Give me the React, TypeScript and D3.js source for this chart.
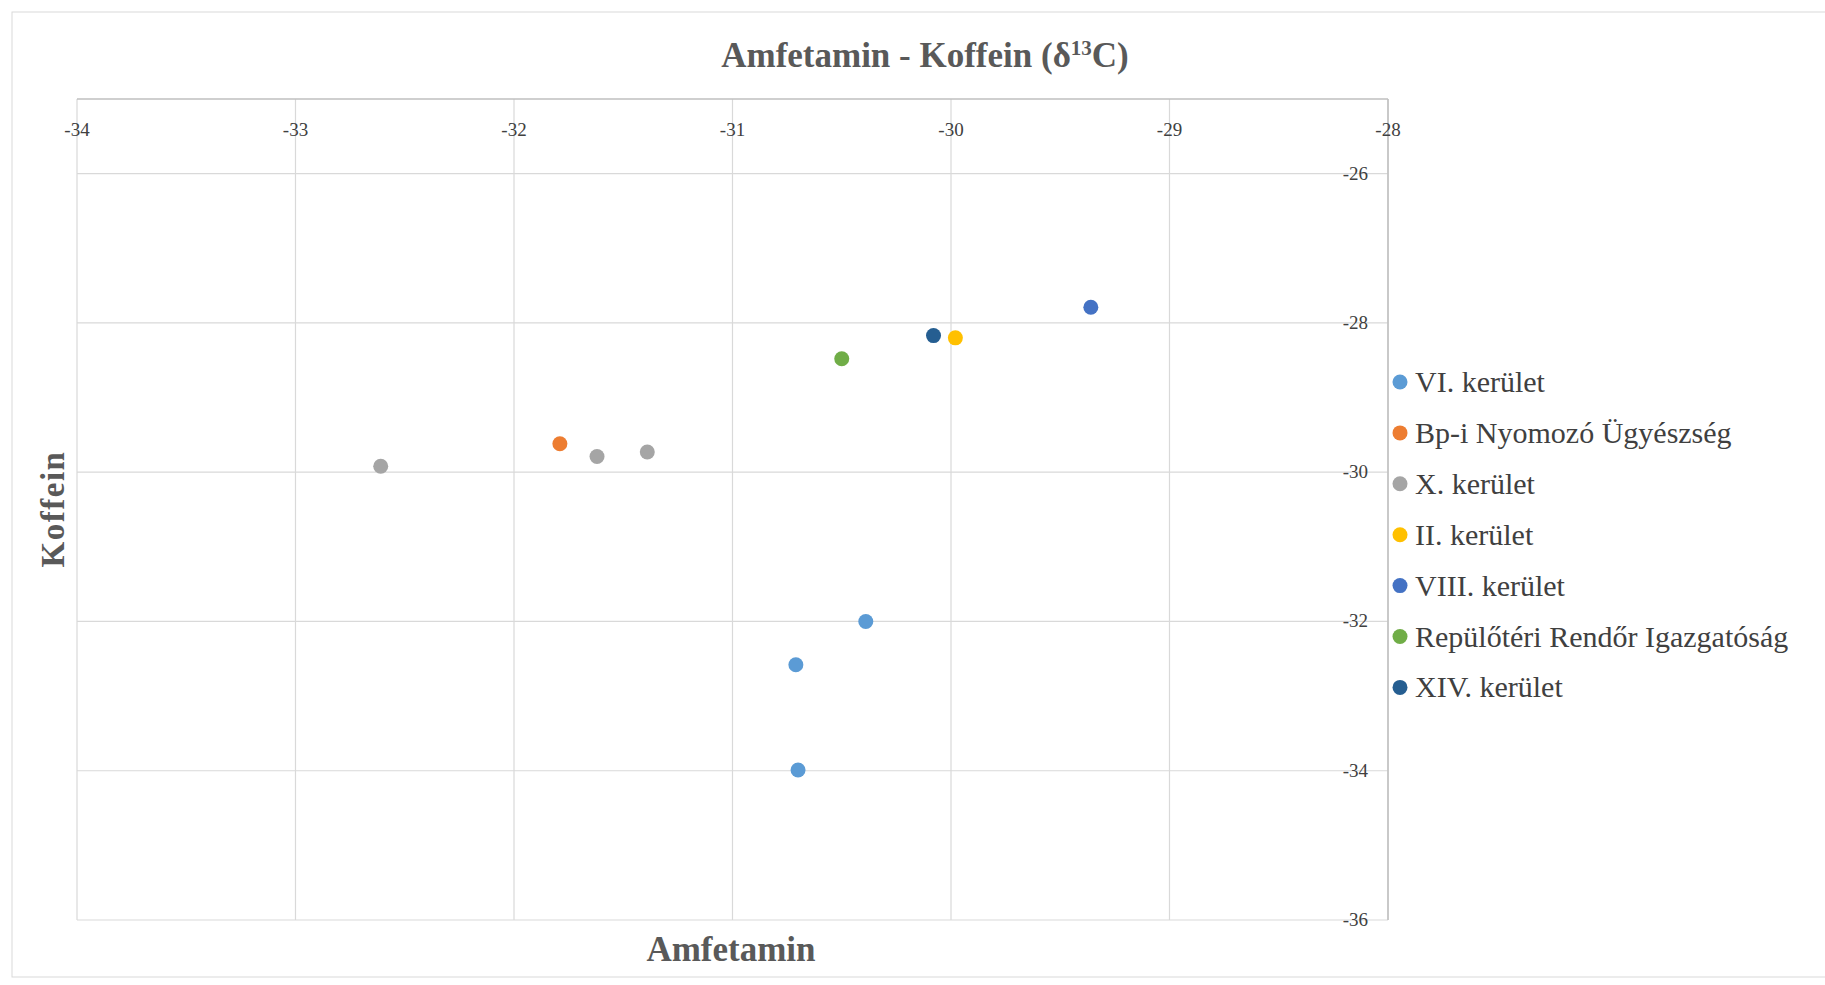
import { useEffect, useRef } from "react";
import * as d3 from "d3";

const seriesNames = [
  "VI. kerület",
  "Bp-i Nyomozó Ügyészség",
  "X. kerület",
  "II. kerület",
  "VIII. kerület",
  "Repülőtéri Rendőr Igazgatóság",
  "XIV. kerület",
];
const seriesColors = ["#5b9bd5", "#ed7d31", "#a5a5a5", "#ffc000", "#4472c4", "#70ad47", "#255e91"];
// [amfetamin, koffein] per series
const seriesPoints: [number, number][][] = [
  [[-30.39, -32.0], [-30.71, -32.58], [-30.7, -33.99]],
  [[-31.79, -29.62]],
  [[-32.61, -29.92], [-31.62, -29.79], [-31.39, -29.73]],
  [[-29.98, -28.2]],
  [[-29.36, -27.79]],
  [[-30.5, -28.48]],
  [[-30.08, -28.17]],
];
const xTicks = [-34, -33, -32, -31, -30, -29, -28];
const yTicks = [-26, -28, -30, -32, -34, -36];

export default function App() {
  const ref = useRef<SVGSVGElement>(null);

  useEffect(() => {
    if (!ref.current) return;
    const svg = d3.select(ref.current);
    svg.selectAll("*").remove();
    const W = 1825, H = 985;
    const left = 77, right = 1388, top = 99, bottom = 920;
    const font = "'Liberation Serif', 'Times New Roman', serif";

    svg.append("rect").attr("x", 12).attr("y", 12).attr("width", W - 10).attr("height", H - 20)
      .attr("fill", "#fff").attr("stroke", "#d9d9d9");

    const x = d3.scaleLinear().domain([-34, -28]).range([left, right]);
    const y = d3.scaleLinear().domain([-36, -25]).range([bottom, top]);

    // gridlines
    xTicks.forEach((t) => {
      svg.append("line").attr("x1", x(t)).attr("x2", x(t)).attr("y1", top).attr("y2", bottom)
        .attr("stroke", "#d9d9d9").attr("stroke-width", 1.2);
    });
    yTicks.forEach((t) => {
      svg.append("line").attr("x1", left).attr("x2", right).attr("y1", y(t)).attr("y2", y(t))
        .attr("stroke", "#d9d9d9").attr("stroke-width", 1.2);
    });
    // axis lines
    svg.append("line").attr("x1", left).attr("x2", right).attr("y1", top).attr("y2", top)
      .attr("stroke", "#bfbfbf").attr("stroke-width", 1.5);
    svg.append("line").attr("x1", right).attr("x2", right).attr("y1", top).attr("y2", bottom)
      .attr("stroke", "#bfbfbf").attr("stroke-width", 1.5);

    xTicks.forEach((t) => {
      svg.append("text").attr("x", x(t)).attr("y", top + 37).attr("text-anchor", "middle")
        .attr("font-family", font).attr("font-size", 19).attr("fill", "#404040").text(String(t));
    });
    yTicks.forEach((t) => {
      svg.append("text").attr("x", right - 20).attr("y", y(t) + 6).attr("text-anchor", "end")
        .attr("font-family", font).attr("font-size", 19).attr("fill", "#404040").text(String(t));
    });

    // points
    seriesPoints.forEach((pts, i) => {
      svg.append("g").selectAll("circle").data(pts).join("circle")
        .attr("cx", (d) => x(d[0])).attr("cy", (d) => y(d[1])).attr("r", 7.5)
        .attr("fill", seriesColors[i]);
    });

    // title
    const title = svg.append("text").attr("x", 925).attr("y", 67).attr("text-anchor", "middle")
      .attr("font-family", font).attr("font-size", 35).attr("font-weight", "bold").attr("fill", "#595959");
    title.append("tspan").text("Amfetamin - Koffein (δ");
    title.append("tspan").attr("font-size", 21).attr("dy", -12).text("13");
    title.append("tspan").attr("dy", 12).text("C)");

    svg.append("text").attr("x", 731).attr("y", 961).attr("text-anchor", "middle")
      .attr("font-family", font).attr("font-size", 35).attr("font-weight", "bold").attr("fill", "#595959")
      .text("Amfetamin");
    svg.append("text").attr("transform", `translate(64,509) rotate(-90)`).attr("text-anchor", "middle")
      .attr("font-family", font).attr("font-size", 33).attr("font-weight", "bold").attr("fill", "#595959")
      .attr("letter-spacing", 1.5).text("Koffein");

    // legend
    seriesNames.forEach((n, i) => {
      const ly = 382 + i * 50.9;
      svg.append("circle").attr("cx", 1400).attr("cy", ly).attr("r", 7.5).attr("fill", seriesColors[i]);
      svg.append("text").attr("x", 1415).attr("y", ly + 10).attr("font-family", font)
        .attr("font-size", 30).attr("fill", "#404040").text(n);
    });
  }, []);

  return (
    <svg ref={ref} width={1825} height={985}
      style={{ position: "absolute", left: 0, top: 0, background: "#fff" }} />
  );
}
